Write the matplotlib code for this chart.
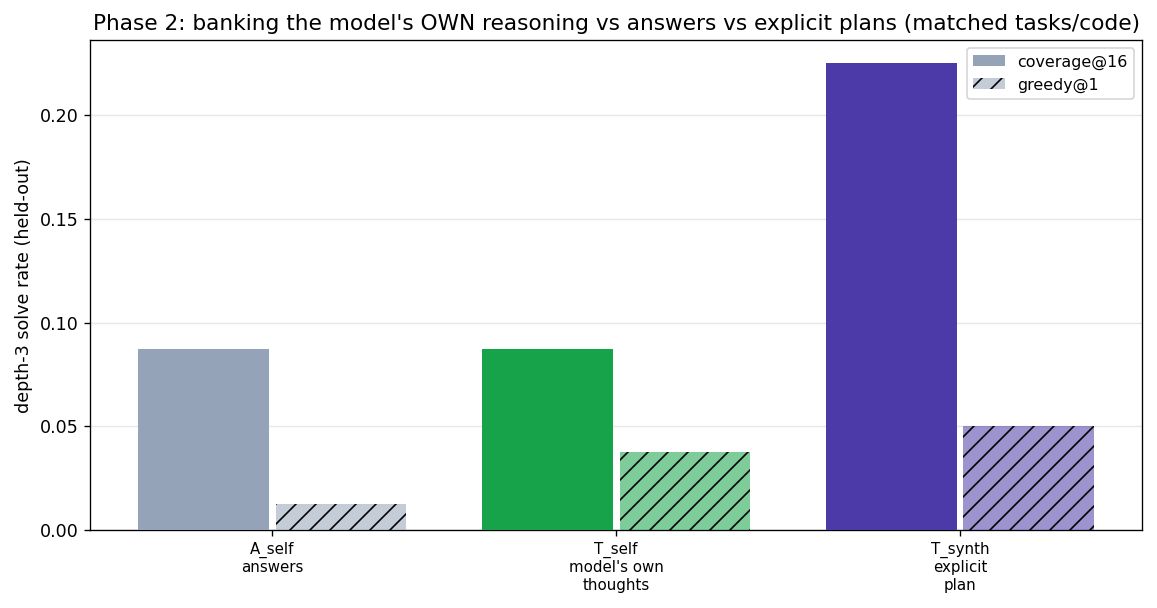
import numpy as np
import matplotlib
matplotlib.use("Agg")
import matplotlib.pyplot as plt
from matplotlib.colors import to_rgba

# data
conditions = ["A_self\nanswers", "T_self\nmodel's own\nthoughts", "T_synth\nexplicit\nplan"]
coverage16 = [0.0875, 0.0875, 0.225]
greedy1 = [0.0125, 0.0375, 0.05]
colors = ["#94a3b8", "#16a34a", "#4c3aa8"]

fig, ax = plt.subplots(figsize=(1157 / 120, 608 / 120), dpi=120)

x = np.arange(len(conditions))
w = 0.38

# light face for greedy bars, hatch stays solid black
light = [to_rgba(c, 0.55) for c in colors]

ax.bar(x - 0.2, coverage16, w, color=colors, label="coverage@16", zorder=3)
ax.bar(x + 0.2, greedy1, w, color=light, hatch="//",
       edgecolor="black", linewidth=0, label="greedy@1", zorder=3)

ax.set_xticks(x)
ax.set_xticklabels(conditions, fontsize=9)
ax.set_ylabel("depth-3 solve rate (held-out)", fontsize=10.5)
ax.set_title("Phase 2: banking the model's OWN reasoning vs answers vs explicit plans (matched tasks/code)",
             fontsize=13)
ax.tick_params(axis="y", labelsize=10.5)
ax.grid(axis="y", alpha=0.3, zorder=0)
ax.legend(loc="upper right", fontsize=9.5)

plt.subplots_adjust(left=0.078, right=0.987, top=0.934, bottom=0.128)
plt.savefig("out.png")
